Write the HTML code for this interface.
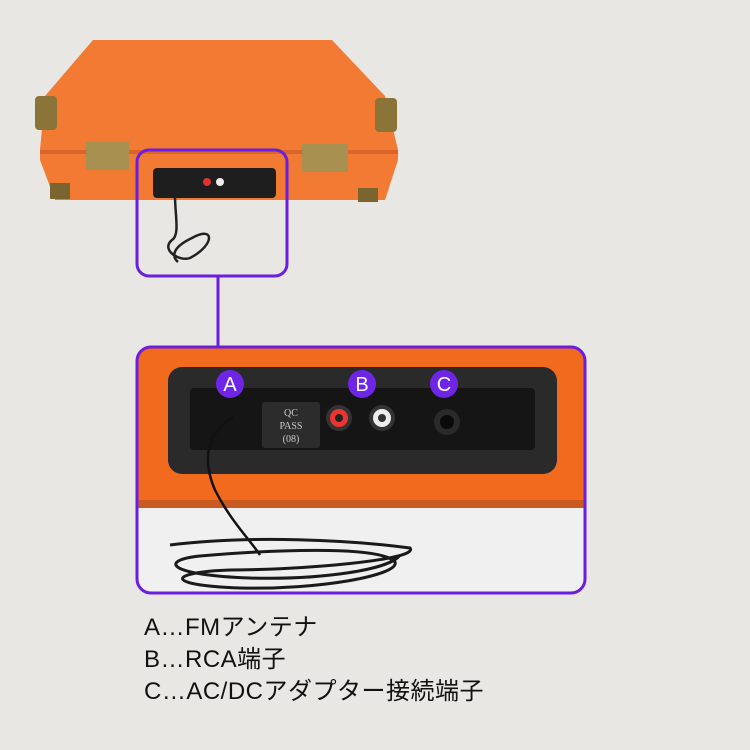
<!DOCTYPE html>
<html><head><meta charset="utf-8"><style>
body{margin:0;width:750px;height:750px;background:#e9e7e3;overflow:hidden;font-family:"Liberation Sans","Noto Sans CJK JP",sans-serif}
.t{position:absolute;left:144px;font-size:24px;letter-spacing:0.5px;line-height:28px;color:#111}
</style></head><body>
<svg width="750" height="750" style="position:absolute;left:0;top:0">
<rect width="750" height="750" fill="#e9e7e3"/>
<path d="M93,40 L332,40 L385,96 L398,150 L398,160 L385,200 L55,200 L40,160 L40,150 L45,96 Z" fill="#f27a33"/>
<path d="M40,150 L398,150 L398,154 L40,154 Z" fill="#d9652a"/>
<rect x="35" y="96" width="22" height="34" rx="4" fill="#8a7438"/>
<rect x="375" y="98" width="22" height="34" rx="4" fill="#8a7438"/>
<rect x="86" y="142" width="43" height="28" fill="#a89050"/>
<rect x="302" y="144" width="46" height="28" fill="#a89050"/>
<rect x="50" y="183" width="20" height="16" fill="#7a6530"/>
<rect x="358" y="188" width="20" height="14" fill="#7a6530"/>
<rect x="153" y="168" width="123" height="30" rx="4" fill="#1e1e1e"/>
<circle cx="207" cy="182" r="4" fill="#d33"/><circle cx="220" cy="182" r="4" fill="#eee"/>
<path d="M175,196 C175,215 180,235 172,240 C160,250 180,262 190,258 C215,245 215,225 192,238 C175,246 170,255 178,262" fill="none" stroke="#222" stroke-width="2.5"/>
<rect x="137" y="150" width="150" height="126" rx="12" fill="none" stroke="#6a1fe0" stroke-width="3"/>
<line x1="218" y1="276" x2="218" y2="347" stroke="#6a1fe0" stroke-width="3"/>
<clipPath id="c"><rect x="137" y="347" width="448" height="246" rx="14"/></clipPath>
<g clip-path="url(#c)">
<rect x="137" y="347" width="448" height="246" fill="#f0f0f0"/>
<rect x="137" y="347" width="448" height="157" fill="#f26a1d"/>
<rect x="137" y="500" width="448" height="8" fill="#c95a20"/>
<rect x="168" y="367" width="389" height="107" rx="14" fill="#2a2a2a"/>
<rect x="190" y="388" width="345" height="62" rx="4" fill="#151515"/>
<rect x="262" y="402" width="58" height="46" rx="3" fill="#2c2c2c"/>
<text x="291" y="416" font-family="Liberation Serif" font-size="10" fill="#ccc" text-anchor="middle">QC</text>
<text x="291" y="429" font-family="Liberation Serif" font-size="10" fill="#ccc" text-anchor="middle">PASS</text>
<text x="291" y="442" font-family="Liberation Serif" font-size="10" fill="#ccc" text-anchor="middle">(08)</text>
<circle cx="339" cy="418" r="13" fill="#333"/><circle cx="339" cy="418" r="9" fill="#e33"/><circle cx="339" cy="418" r="4" fill="#222"/>
<circle cx="382" cy="418" r="13" fill="#333"/><circle cx="382" cy="418" r="9" fill="#eee"/><circle cx="382" cy="418" r="4" fill="#333"/>
<circle cx="447" cy="422" r="13" fill="#2a2a2a"/><circle cx="447" cy="422" r="7" fill="#0a0a0a"/>
<path d="M234,417 C210,430 200,455 215,490 C230,520 250,540 260,555" fill="none" stroke="#111" stroke-width="2.5"/>
<path d="M170,545 C250,535 350,540 410,548 C420,560 300,570 230,570 C170,572 160,585 240,588 C320,590 400,575 395,562 C380,545 270,550 200,556 C160,560 165,575 250,578 C320,580 390,570 400,555" fill="none" stroke="#1a1a1a" stroke-width="3"/>
</g>
<rect x="137" y="347" width="448" height="246" rx="14" fill="none" stroke="#6a1fe0" stroke-width="3"/>
<g font-family="Liberation Sans" font-size="20" fill="#fff" text-anchor="middle">
<circle cx="230" cy="384" r="14" fill="#6f25e6"/><text x="230" y="391">A</text>
<circle cx="362" cy="384" r="14" fill="#6f25e6"/><text x="362" y="391">B</text>
<circle cx="444" cy="384" r="14" fill="#6f25e6"/><text x="444" y="391">C</text>
</g>
</svg>
<div class="t" style="top:614px">A…FMアンテナ</div>
<div class="t" style="top:646px">B…RCA端子</div>
<div class="t" style="top:678px">C…AC/DCアダプター接続端子</div>
</body></html>
